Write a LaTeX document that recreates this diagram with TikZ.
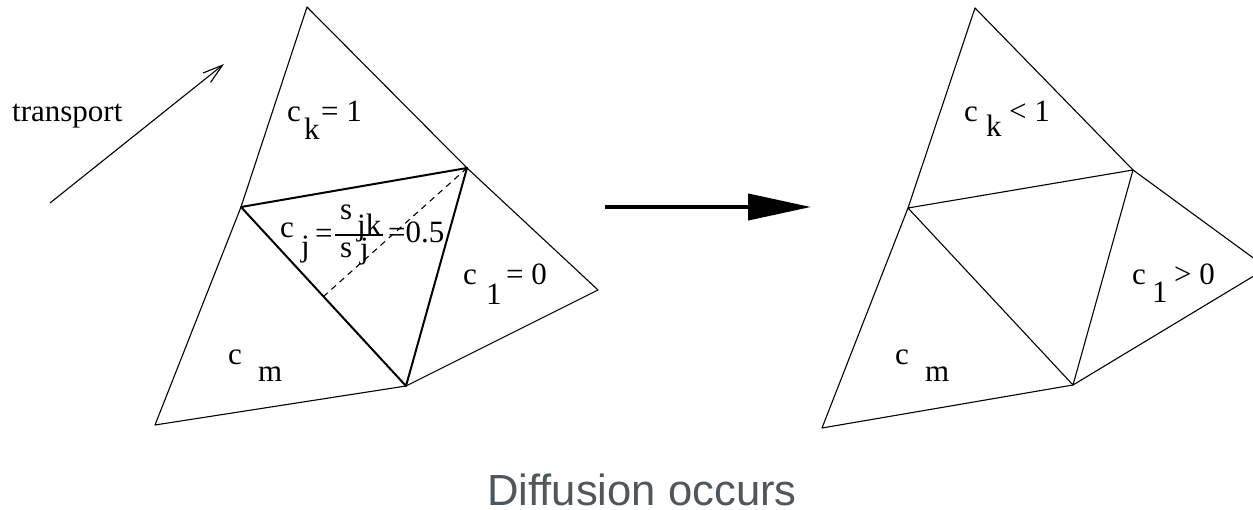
\documentclass[tikz,border=0pt]{standalone}
\usepackage{fontspec}
\setmainfont{Liberation Serif}
\newfontfamily\capfont{Liberation Sans}
\usetikzlibrary{arrows.meta,positioning,calc}
\definecolor{capgray}{RGB}{80,86,89}

\begin{document}
\begin{tikzpicture}[x=1pt,y=-1pt,>=Latex,
  lbl/.style={anchor=base west,inner sep=0pt,font=\fontsize{31}{31}\selectfont},
  meshline/.style={line width=1.1pt,line join=round},
  cellline/.style={line width=2pt,line join=round}]
\useasboundingbox (0,0) rectangle (1253,510);
% mesh before
\coordinate (tA) at (307,7);
\coordinate (lB) at (241,207);
\coordinate (rC) at (467,168);
\coordinate (bD) at (406,386);
\coordinate (blE) at (155,425);
\coordinate (rF) at (598,290);
\coordinate (mBD) at ($(lB)!0.5!(bD)$);
\draw[meshline] (tA)--(lB)--(blE)--(bD)--(rF)--(rC)--cycle;
\draw[cellline] (lB)--(rC)--(bD)--cycle;
\draw[meshline,dash pattern=on 6pt off 5pt] (rC)--(mBD);
% mesh after
\coordinate (tA2) at (975,8);
\coordinate (lB2) at (908,208);
\coordinate (rC2) at (1133,170);
\coordinate (bD2) at (1073,385);
\coordinate (blE2) at (822,428);
\coordinate (rF2) at (1267,268);
\begin{scope}
\clip (0,0) rectangle (1253,510);
\draw[meshline] (tA2)--(lB2)--(blE2)--(bD2)--(rF2)--(rC2)--cycle;
\draw[meshline] (lB2)--(rC2)--(bD2)--cycle;
\end{scope}
% transport
\node[lbl] (tr) at (12,122) {transport};
\coordinate (trS) at (50,203);
\coordinate (trE) at (224,64);
\draw[meshline,-{Straight Barb[length=20pt,width=12pt]}] (trS)--(trE);
% labels before
\node[lbl] (ck) at (287,122) {c};
\node[lbl] (ckk) at (304,140) {k};
\node[lbl] (ckv) at (321,122) {= 1};
\node[lbl] (cj) at (280,238) {c};
\node[lbl] (cjj) at (301,257) {j};
\node[lbl] (cjeq) at (315,244) {=};
\node[lbl] (sjk) at (340,220) {s};
\node[lbl] (jk) at (357,236) {jk};
\node[lbl] (sj) at (340,258) {s};
\node[lbl] (sjj) at (360,259) {j};
\coordinate (barL) at (335,235);
\coordinate (barR) at (383,235);
\draw[line width=1.2pt] (barL)--(barR);
\node[lbl] (cjv) at (388,243) {=0.5};
\node[lbl] (cl) at (463,285) {c};
\node[lbl] (cll) at (486,305) {1};
\node[lbl] (clv) at (506,285) {= 0};
\node[lbl] (cm) at (228,365) {c};
\node[lbl] (cmm) at (258,382) {m};
% big arrow
\coordinate (arS) at (605,207);
\coordinate (arE) at (811,207);
\draw[line width=4pt,-{Triangle[length=63pt,width=26pt]}] (arS)--(arE);
% labels after
\node[lbl] (ck2) at (964,122) {c};
\node[lbl] (ckk2) at (986,137) {k};
\node[lbl] (ckv2) at (1009,122) {< 1};
\node[lbl] (cl2) at (1132,285) {c};
\node[lbl] (cll2) at (1152,303) {1};
\node[lbl] (clv2) at (1174,285) {> 0};
\node[lbl] (cm2) at (895,365) {c};
\node[lbl] (cmm2) at (925,382) {m};
% caption
\node[anchor=base,inner sep=0pt,text depth=0pt,text=capgray,font=\capfont\fontsize{43.6}{44}\selectfont] (cap) at (642,505) {Diffusion occurs};
\end{tikzpicture}
\end{document}
